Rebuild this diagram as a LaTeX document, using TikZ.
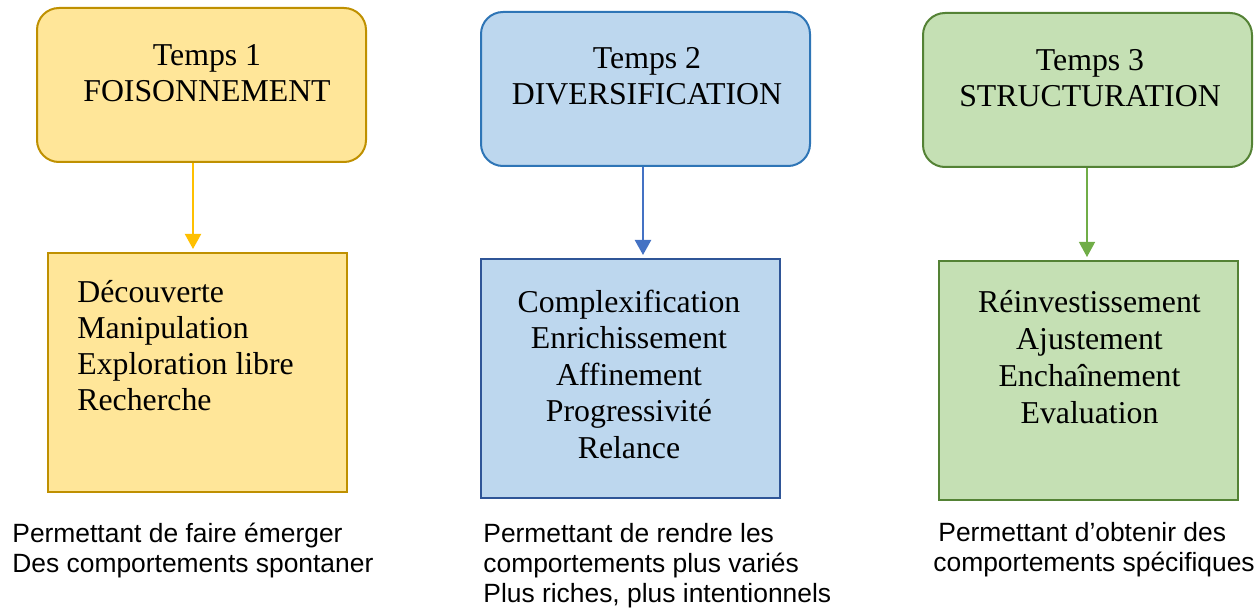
\documentclass[tikz,border=0pt]{standalone}
\usepackage{fontspec}
\setmainfont{Liberation Serif}
\newfontfamily\capfont{Liberation Sans}
\usetikzlibrary{arrows.meta,fit,calc}
\definecolor{yfill}{HTML}{FFE699}
\definecolor{ydraw}{HTML}{BF9000}
\definecolor{yarrow}{HTML}{FFC000}
\definecolor{bfill}{HTML}{BDD7EE}
\definecolor{bdraw}{HTML}{2E75B6}
\definecolor{bdrawin}{HTML}{2F5597}
\definecolor{barrow}{HTML}{4472C4}
\definecolor{gfill}{HTML}{C5E0B4}
\definecolor{gdraw}{HTML}{548235}
\definecolor{garrow}{HTML}{70AD47}
\tikzset{
  topbox/.style={inner sep=0pt, line width=1pt, rounded corners=11pt},
  inbox/.style={inner sep=0pt, line width=1pt},
  toptext/.style={font=\fontsize{15.9}{18}\selectfont, align=center, anchor=base, inner sep=0pt},
  intext/.style={font=\fontsize{15.9}{18.25}\selectfont, inner sep=0pt, anchor=base},
  captext/.style={font=\capfont\fontsize{13.2}{15}\selectfont, align=left, anchor=base west, inner sep=0pt},
  arr/.style={-{Triangle[width=8pt,length=7.5pt]}, shorten >=1.5pt},
}
\begin{document}
\begin{tikzpicture}[x=0.5pt,y=-0.5pt]
\useasboundingbox (0,0) rectangle (1260,610);
% top boxes
\node[topbox, fill=yfill, draw=ydraw, fit={(37,8) (366,162)}] (t1) {};
\node[topbox, fill=bfill, draw=bdraw, fit={(481,12) (810,166)}] (t2) {};
\node[topbox, fill=gfill, draw=gdraw, fit={(923,13) (1252,167)}] (t3) {};
% (base anchor = baseline of the last line)
\node[toptext] (t1txt) at (207,102) {Temps 1\\FOISONNEMENT};
\node[toptext] (t2txt) at (647,105) {Temps 2\\DIVERSIFICATION};
\node[toptext] (t3txt) at (1090,107) {Temps 3\\STRUCTURATION};
% inner boxes
\node[inbox, fill=yfill, draw=ydraw, fit={(48,253) (347,492)}] (b1) {};
\node[inbox, fill=bfill, draw=bdrawin, fit={(481,259) (780,498)}] (b2) {};
\node[inbox, fill=gfill, draw=gdraw, fit={(939,261) (1238,500)}] (b3) {};
\node[intext, anchor=base west, align=left, font=\fontsize{15.9}{18}\selectfont] (b1txt) at (77,410) {Découverte\\Manipulation\\Exploration libre\\Recherche};
\node[intext, align=center] (b2txt) at (629,458) {Complexification\\Enrichissement\\Affinement\\Progressivité\\Relance};
\node[intext, align=center, font=\fontsize{15.9}{18.5}\selectfont] (b3txt) at (1089.5,423) {Réinvestissement\\Ajustement\\Enchaînement\\Evaluation};
% arrows
\draw[arr, yarrow, line width=1pt] ($(t1.south)+(-8.5,0)$) coordinate (a1) -- (a1 |- b1.north);
\draw[arr, barrow, line width=1.2pt] ($(t2.south)+(-2.5,0)$) coordinate (a2) -- (a2 |- b2.north);
\draw[arr, garrow, line width=0.6pt] ($(t3.south)+(-0.5,0)$) coordinate (a3) -- (a3 |- b3.north);
% captions
\node[captext] (c1) at (12,572) {Permettant de faire émerger\\Des comportements spontaner};
\node[captext] (c2) at (483,602) {Permettant de rendre les\\comportements plus variés\\Plus riches, plus intentionnels};
\node[captext] (c3) at (933,571) {\hspace{2.5pt}Permettant d’obtenir des\\comportements spécifiques};
\end{tikzpicture}
\end{document}
